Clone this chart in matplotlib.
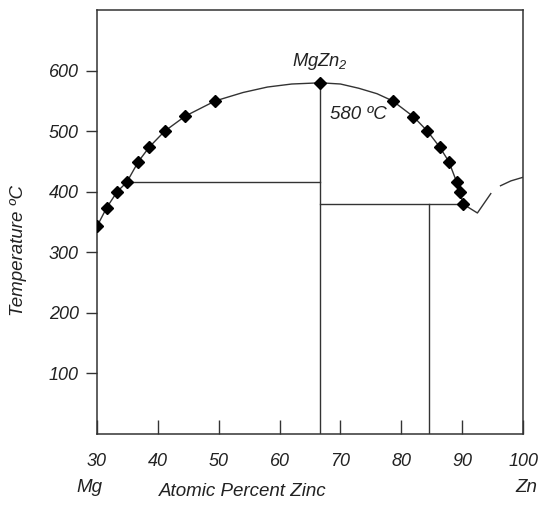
import numpy as np
import matplotlib.pyplot as plt

plt.rcParams['font.family'] = ['Liberation Sans', 'DejaVu Sans']
plt.rcParams['mathtext.fontset'] = 'custom'
plt.rcParams['mathtext.it'] = 'Liberation Sans:italic'
plt.rcParams['mathtext.rm'] = 'Liberation Sans:italic'

# measured liquidus points (markers)
mark_x = [30, 31.6, 33.3, 34.9, 36.8, 38.6, 41.1, 44.5, 49.4, 66.7,
          78.6, 82.0, 84.3, 86.3, 87.8, 89.1, 89.7, 90.1]
mark_t = [343, 374, 400, 416, 450, 474, 500, 525, 550, 580,
          550, 524, 500, 474, 450, 416, 400, 380]

# liquidus curve
liq_x = [30, 31.6, 33.3, 34.9, 36.8, 38.6, 41.1, 44.5, 49.4, 54, 58, 62, 66.7,
         70, 73, 76, 78.6, 82.0, 84.3, 86.3, 87.8, 89.1, 89.7, 90.1, 92.5, 94.7]
liq_t = [343, 374, 400, 416, 450, 474, 500, 525, 550, 564, 573, 578, 580,
         578, 571, 562, 550, 524, 500, 474, 450, 416, 400, 380, 365, 397]
zn_x = [96.3, 98, 100]
zn_t = [410, 418, 424]

# invariant lines
eut1_x, eut1_t = [34.9, 66.7], 416
eut2_x, eut2_t = [66.7, 90.1], 380
comp_x, comp_t = 66.7, 580
mg2zn11_x = 84.5

xticks = [30, 40, 50, 60, 70, 80, 90, 100]
yticks = [100, 200, 300, 400, 500, 600]

lc = '#333333'
tc = '#222222'
fig = plt.figure(figsize=(5.5, 5.07), dpi=100)
ax = fig.add_axes([0.1764, 0.144, 0.951 - 0.1764, 0.980 - 0.144])

ax.plot(liq_x, liq_t, color=lc, lw=1.0)
ax.plot(zn_x, zn_t, color=lc, lw=1.0)
ax.plot(eut1_x, [eut1_t, eut1_t], color=lc, lw=1.0)
ax.plot(eut2_x, [eut2_t, eut2_t], color=lc, lw=1.0)
ax.plot([comp_x, comp_x], [0, comp_t], color=lc, lw=1.0)
ax.plot([mg2zn11_x, mg2zn11_x], [0, eut2_t], color=lc, lw=1.0)
ax.plot(mark_x, mark_t, 'D', color='black', ms=6, zorder=5)

ax.set_xlim(30, 100)
ax.set_ylim(0, 700)
ax.set_xticks(xticks)
ax.set_yticks(yticks)
ax.tick_params(axis='x', direction='in', length=10, width=1.0, color=lc,
               pad=13.5, labelsize=13)
ax.tick_params(axis='y', direction='out', length=8, width=1.0, color=lc,
               pad=5, labelsize=13)
for lab in ax.get_xticklabels() + ax.get_yticklabels():
    lab.set_fontstyle('italic')
    lab.set_color(tc)
for s in ax.spines.values():
    s.set_color(lc)
    s.set_linewidth(1.1)

ax.text(66.7, 598, r'$MgZn_2$', ha='center', va='bottom', fontsize=13.2, color=tc)
ax.text(68.2, 528, '580 ºC', ha='left', va='center', fontsize=13.5, style='italic', color=tc)

fig.text(18.5 / 550, 1 - 250 / 507, 'Temperature ºC', rotation=90, ha='center',
         va='center', fontsize=13.5, style='italic', color=tc)
fig.text(89 / 550, 1 - 487 / 507, 'Mg', ha='center', va='center', fontsize=13.5,
         style='italic', color=tc)
fig.text(526 / 550, 1 - 487 / 507, 'Zn', ha='center', va='center', fontsize=13.5,
         style='italic', color=tc)
fig.text(242.5 / 550, 1 - 491 / 507, 'Atomic Percent Zinc', ha='center', va='center',
         fontsize=13.5, style='italic', color=tc)

fig.savefig('out.png', dpi=100)
